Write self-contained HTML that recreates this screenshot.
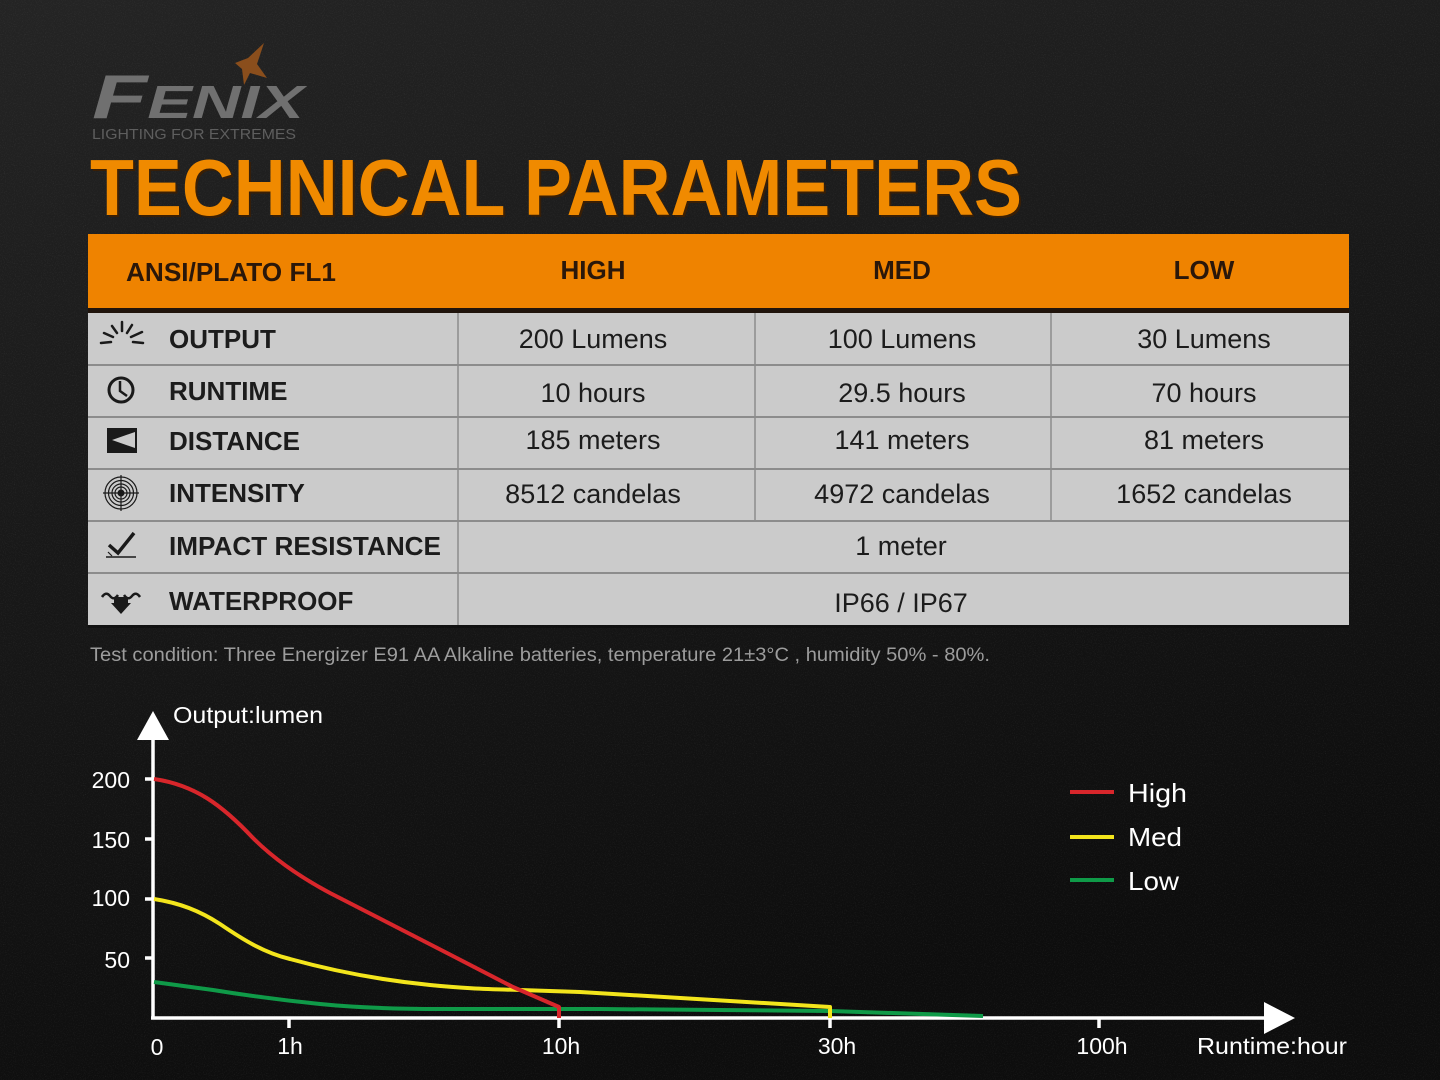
<!DOCTYPE html>
<html>
<head>
<meta charset="utf-8">
<style>
html,body{margin:0;padding:0;background:#141414;}
body{width:1440px;height:1080px;overflow:hidden;}
svg{display:block;}
text{font-family:"Liberation Sans",Arial,sans-serif;}
</style>
</head>
<body>
<svg width="1440" height="1080" viewBox="0 0 1440 1080" xmlns="http://www.w3.org/2000/svg">
<defs>
<linearGradient id="bg" x1="0" y1="0" x2="0.3" y2="1">
<stop offset="0" stop-color="#242424"/>
<stop offset="0.45" stop-color="#191919"/>
<stop offset="1" stop-color="#0d0d0d"/>
</linearGradient>
<filter id="noise" x="0" y="0" width="100%" height="100%">
<feTurbulence type="fractalNoise" baseFrequency="0.9" numOctaves="2" seed="3"/>
<feColorMatrix type="matrix" values="0 0 0 0 1  0 0 0 0 1  0 0 0 0 1  0 0 0 0.9 -0.45"/>
</filter>
</defs>
<rect width="1440" height="1080" fill="url(#bg)"/>
<rect width="1440" height="1080" filter="url(#noise)" opacity="0.18"/>

<!-- Logo -->
<polygon points="235,63 248,58 264,43 257,64 267,78 250,73 244,85 242,69" fill="#8a4e1c"/>
<text x="92" y="118" font-size="46" font-weight="bold" font-style="italic" fill="#707070" textLength="212" lengthAdjust="spacingAndGlyphs"><tspan font-size="62">F</tspan>ENIX</text>
<text x="92" y="139" font-size="15" fill="#5e5e5e" textLength="204" lengthAdjust="spacingAndGlyphs">LIGHTING FOR EXTREMES</text>

<!-- Title -->
<text x="92" y="217" font-size="80" font-weight="bold" fill="#3a1f05" textLength="932" lengthAdjust="spacingAndGlyphs">TECHNICAL PARAMETERS</text>
<text x="90" y="215" font-size="80" font-weight="bold" fill="#f08a00" textLength="932" lengthAdjust="spacingAndGlyphs">TECHNICAL PARAMETERS</text>

<!-- Table header -->
<rect x="88" y="234" width="1261" height="75" fill="#ef8300"/>
<rect x="88" y="308" width="1261" height="5" fill="#20140c"/>
<g font-size="26" font-weight="bold" fill="#2a170a">
<text x="126" y="281" textLength="210" lengthAdjust="spacingAndGlyphs">ANSI/PLATO FL1</text>
<text x="593" y="279" text-anchor="middle">HIGH</text>
<text x="902" y="279" text-anchor="middle">MED</text>
<text x="1204" y="279" text-anchor="middle">LOW</text>
</g>

<!-- Table body -->
<rect x="88" y="313" width="1261" height="312" fill="#cbcbcb"/>
<g stroke="#8c8c8c" stroke-width="2">
<line x1="88" y1="365" x2="1349" y2="365"/>
<line x1="88" y1="417" x2="1349" y2="417"/>
<line x1="88" y1="469" x2="1349" y2="469"/>
<line x1="88" y1="521" x2="1349" y2="521"/>
<line x1="88" y1="573" x2="1349" y2="573"/>
</g>
<g stroke="#8c8c8c" stroke-width="1.5">
<line x1="458" y1="313" x2="458" y2="625"/>
<line x1="755" y1="313" x2="755" y2="521"/>
<line x1="1051" y1="313" x2="1051" y2="521"/>
</g>
<rect x="88" y="625" width="1261" height="3" fill="#0e0e0e" opacity="0.6"/>

<g font-size="26" font-weight="bold" fill="#1c1c1c">
<text x="169" y="348">OUTPUT</text>
<text x="169" y="400">RUNTIME</text>
<text x="169" y="450">DISTANCE</text>
<text x="169" y="502">INTENSITY</text>
<text x="169" y="555" textLength="272" lengthAdjust="spacingAndGlyphs">IMPACT RESISTANCE</text>
<text x="169" y="610">WATERPROOF</text>
</g>
<g font-size="27" fill="#1c1c1c" text-anchor="middle">
<text x="593" y="348">200 Lumens</text>
<text x="902" y="348">100 Lumens</text>
<text x="1204" y="348">30 Lumens</text>
<text x="593" y="402">10 hours</text>
<text x="902" y="402">29.5 hours</text>
<text x="1204" y="402">70 hours</text>
<text x="593" y="449">185 meters</text>
<text x="902" y="449">141 meters</text>
<text x="1204" y="449">81 meters</text>
<text x="593" y="503">8512 candelas</text>
<text x="902" y="503">4972 candelas</text>
<text x="1204" y="503">1652 candelas</text>
<text x="901" y="555">1 meter</text>
<text x="901" y="612">IP66 / IP67</text>
</g>

<!-- Icons -->
<g fill="#1a1a1a" stroke="#1a1a1a">
<g stroke-width="2.5" stroke-linecap="round">
<line x1="101" y1="343" x2="111" y2="342"/>
<line x1="104" y1="333" x2="113" y2="337"/>
<line x1="112" y1="326" x2="117" y2="333"/>
<line x1="122" y1="322" x2="122" y2="331"/>
<line x1="132" y1="325" x2="127" y2="333"/>
<line x1="142" y1="332" x2="131" y2="337"/>
<line x1="143" y1="343" x2="133" y2="342"/>
</g>
<circle cx="121" cy="390" r="12" fill="none" stroke-width="3"/>
<polyline points="120,381 120,391 127,396" fill="none" stroke-width="2.5"/>
<rect x="107" y="428" width="30" height="25" stroke="none"/>
<polygon points="112,440 135,432 135,448" fill="#cbcbcb" stroke="none"/>
<g fill="none" stroke-width="1.2">
<circle cx="121" cy="493" r="16"/>
<circle cx="121" cy="493" r="12.5"/>
<circle cx="121" cy="493" r="9"/>
<circle cx="121" cy="493" r="6"/>
<line x1="103" y1="493" x2="139" y2="493"/>
<line x1="121" y1="475" x2="121" y2="511"/>
</g>
<circle cx="121" cy="493" r="3.5" stroke="none"/>
<polyline points="109,545 118,553 134,533" fill="none" stroke-width="3.5"/>
<line x1="106" y1="557" x2="136" y2="557" stroke-width="1.5"/>
<line x1="108" y1="552" x2="112" y2="556" stroke-width="1.2"/>
<path d="M102,597 q4,-6 8,-1 q4,5 8,-1 M124,595 q4,6 8,1 q4,-5 8,1" fill="none" stroke-width="2.5"/>
<polygon points="114,597 128,597 128,603 131,603 121,614 111,603 114,603" stroke="none"/>
</g>

<!-- Test condition -->
<text x="90" y="661" font-size="19" fill="#9c9c9c" textLength="900" lengthAdjust="spacingAndGlyphs">Test condition: Three Energizer E91 AA Alkaline batteries, temperature 21±3°C , humidity 50% - 80%.</text>

<!-- Chart axes -->
<g stroke="#ffffff" stroke-width="3.5" fill="none">
<line x1="153" y1="735" x2="153" y2="1019"/>
<line x1="151" y1="1018" x2="1268" y2="1018"/>
<line x1="145" y1="779" x2="153" y2="779"/>
<line x1="145" y1="839" x2="153" y2="839"/>
<line x1="145" y1="899" x2="153" y2="899"/>
<line x1="145" y1="958" x2="153" y2="958"/>
<line x1="289" y1="1018" x2="289" y2="1028"/>
<line x1="559" y1="1018" x2="559" y2="1028"/>
<line x1="830" y1="1018" x2="830" y2="1028"/>
<line x1="1099" y1="1018" x2="1099" y2="1028"/>
</g>
<polygon points="153,711 169,740 137,740" fill="#ffffff"/>
<polygon points="1295,1018 1264,1002 1264,1034" fill="#ffffff"/>

<g fill="#ffffff" font-size="23">
<text x="173" y="723" textLength="150" lengthAdjust="spacingAndGlyphs">Output:lumen</text>
<text x="130" y="788" text-anchor="end">200</text>
<text x="130" y="848" text-anchor="end">150</text>
<text x="130" y="906" text-anchor="end">100</text>
<text x="130" y="968" text-anchor="end">50</text>
<text x="157" y="1055" text-anchor="middle">0</text>
<text x="290" y="1054" text-anchor="middle">1h</text>
<text x="561" y="1054" text-anchor="middle">10h</text>
<text x="837" y="1054" text-anchor="middle">30h</text>
<text x="1102" y="1054" text-anchor="middle">100h</text>
<text x="1197" y="1054" textLength="150" lengthAdjust="spacingAndGlyphs">Runtime:hour</text>
</g>

<!-- Series -->
<g fill="none" stroke-width="4" stroke-linejoin="round">
<path d="M154,982 L213,990 C250,996 280,1000 320,1004 C360,1008 400,1009 440,1009 L600,1009 L830,1011 L983,1016" stroke="#0f9a48"/>
<path d="M154,899 C180,903 200,911 220,924 C245,941 265,953 290,959 C330,970 380,980 430,985 C460,988 480,989 520,990 L580,992 L830,1007 L830,1018" stroke="#f3e51c"/>
<path d="M154,779 C195,785 222,805 253,838 C275,860 300,877 330,893 L447,953 L513,987 L559,1007 L559,1018" stroke="#d8262b"/>
</g>

<!-- Legend -->
<g stroke-width="4">
<line x1="1070" y1="792" x2="1114" y2="792" stroke="#d8262b"/>
<line x1="1070" y1="837" x2="1114" y2="837" stroke="#f3e51c"/>
<line x1="1070" y1="880" x2="1114" y2="880" stroke="#0f9a48"/>
</g>
<g fill="#ffffff" font-size="26">
<text x="1128" y="802" textLength="59" lengthAdjust="spacingAndGlyphs">High</text>
<text x="1128" y="846" textLength="54" lengthAdjust="spacingAndGlyphs">Med</text>
<text x="1128" y="890" textLength="51" lengthAdjust="spacingAndGlyphs">Low</text>
</g>
</svg>
</body>
</html>
